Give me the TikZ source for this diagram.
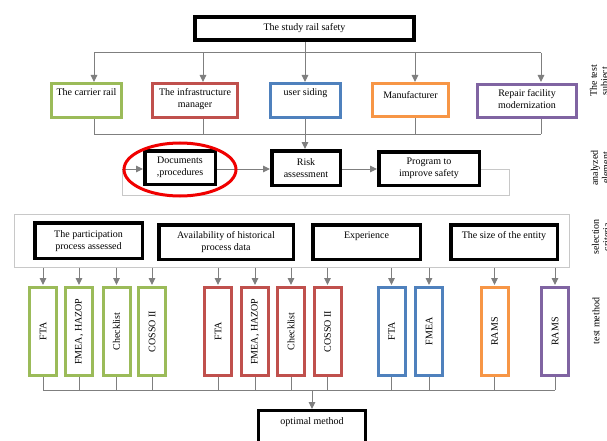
\documentclass[tikz,border=0pt]{standalone}
\usepackage{fontspec}
\setmainfont{Liberation Serif}
\usetikzlibrary{arrows.meta,shapes.geometric}
\definecolor{cgreen}{HTML}{9BBB59}
\definecolor{cred}{HTML}{C0504D}
\definecolor{cblue}{HTML}{4F81BD}
\definecolor{corange}{HTML}{F79646}
\definecolor{cpurple}{HTML}{8064A2}
\definecolor{conncol}{HTML}{7F7F7F}
\definecolor{lightcol}{HTML}{C8C8C8}
\definecolor{ringred}{HTML}{F00000}
\begin{document}
\begin{tikzpicture}[x=1pt,y=-1pt,
  font=\fontsize{10}{12}\selectfont,
  conn/.style={draw=conncol,line width=1pt},
  arr/.style={conn,-{Triangle[length=7pt,width=6.5pt]}},
  cbox/.style={draw=#1,line width=3pt,fill=white,rectangle,inner sep=0pt},
  bbox/.style={draw=black,line width=3.5pt,fill=white,rectangle,inner sep=0pt,align=center},
  mbox/.style={cbox=#1,minimum width=27pt,minimum height=88pt},
  toplbl/.style={anchor=north,align=center,inner sep=0pt},
  side/.style={rotate=90,align=center,inner sep=0pt,font=\fontsize{10}{11}\selectfont}
]
\useasboundingbox (0,0) rectangle (607,441);
\clip (0,0) rectangle (607,441);
\fill[white] (0,0) rectangle (607,441);

% top box
\node[bbox,line width=4pt,minimum width=219pt,minimum height=23pt] (T) at (304.5,28.5) {The study rail safety};

% row 2 boxes
\node[cbox=cgreen,minimum width=70pt,minimum height=34pt,
  label={[toplbl,yshift=-6pt]north:{The carrier rail}}] (A) at (86.5,100.5) {};
\node[cbox=cred,minimum width=85pt,minimum height=34pt,
  label={[toplbl,yshift=-6.5pt]north:{The infrastructure\\manager}}] (B) at (195,100.5) {};
\node[cbox=cblue,minimum width=70pt,minimum height=34pt,
  label={[toplbl,yshift=-6.5pt]north:{user siding}}] (C) at (305.5,100.5) {};
\node[cbox=corange,minimum width=76pt,minimum height=33pt,
  label={[toplbl,yshift=-9pt]north:{Manufacturer}}] (D) at (410.5,100) {};
\node[cbox=cpurple,minimum width=99pt,minimum height=33pt,
  label={[toplbl,yshift=-6pt]north:{Repair facility\\modernization}}] (E) at (527,101) {};

% arrow positions row 2
\coordinate (ia) at (94,82);
\coordinate (ib) at (203,82);
\coordinate (ic) at (305,82);
\coordinate (id) at (415,82);
\coordinate (ie) at (541,82);
\coordinate (tbus) at (94,53);
\coordinate (bbus) at (94,134);

\draw[conn] (T.south -| ic) -- (ic |- tbus);
\draw[conn] (ia |- tbus) -- (ie |- tbus);
\foreach \c in {ia,ib,ic,id,ie} \draw[arr] (\c |- tbus) -- (\c);

% bottom bus row 2
\draw[conn] (ia |- bbus) -- (ie |- bbus);
\draw[conn] (ia |- A.south) -- (ia |- bbus);
\draw[conn] (ib |- B.south) -- (ib |- bbus);
\draw[conn] (id |- D.south) -- (id |- bbus);
\draw[conn] (ie |- E.south) -- (ie |- bbus);

% row 3
\node[bbox,minimum width=70.5pt,minimum height=33.5pt] (Doc) at (180,167.5) {Documents\\,procedures};
\node[bbox,minimum width=68.5pt,minimum height=34.5pt] (R) at (306,168) {Risk\\assessment};
\node[bbox,minimum width=100.5pt,minimum height=33.5pt] (P) at (429,168.5) {Program to\\improve safety};
\draw[arr] (ic |- C.south) -- (ic |- R.north);

\coordinate (lp1) at (509,169);
\coordinate (lp2) at (509,195);
\coordinate (lp3) at (122,195);
\coordinate (lp4) at (122,169);
\draw[arr] (Doc.east |- lp1) -- (R.west |- lp1);
\draw[arr] (R.east |- lp1) -- (P.west |- lp1);
\draw[draw=lightcol,line width=1pt] (P.east |- lp1) -- (lp1) -- (lp2) -- (lp3) -- (lp4);
\draw[arr] (lp4) -- (Doc.west |- lp4);

\node[ellipse,draw=ringred,line width=3pt,minimum width=112pt,minimum height=53pt] (ring) at (180,169.5) {};

% selection criteria
\node[draw=lightcol,line width=1pt,rectangle,minimum width=555pt,minimum height=53pt,inner sep=0pt] (S) at (291.5,240.5) {};
\node[bbox,minimum width=107.5pt,minimum height=35.5pt,
  label={[toplbl,yshift=-9.5pt]north:{The participation\\process assessed}}] (C1) at (88.5,240.5) {};
\node[bbox,minimum width=134.5pt,minimum height=34.5pt,
  label={[toplbl,yshift=-8.5pt]north:{Availability of historical\\process data}}] (C2) at (226,242) {};
\node[bbox,minimum width=107.5pt,minimum height=34.5pt,
  label={[toplbl,yshift=-8.5pt]north:{Experience}}] (C3) at (366.5,242) {};
\node[bbox,minimum width=106.5pt,minimum height=34.5pt,
  label={[toplbl,yshift=-8.5pt]north:{The size of the entity}}] (C4) at (504,242) {};

% test methods
\node[mbox=cgreen] (m1) at (43,331.5) {\rotatebox{90}{FTA}};
\node[mbox=cgreen] (m2) at (79,331.5) {\rotatebox{90}{FMEA, HAZOP}};
\node[mbox=cgreen] (m3) at (116.5,331.5) {\rotatebox{90}{Checklist}};
\node[mbox=cgreen] (m4) at (152,331.5) {\rotatebox{90}{COSSO II}};
\node[mbox=cred] (m5) at (218,331.5) {\rotatebox{90}{FTA}};
\node[mbox=cred] (m6) at (255,331.5) {\rotatebox{90}{FMEA, HAZOP}};
\node[mbox=cred] (m7) at (291,331.5) {\rotatebox{90}{Checklist}};
\node[mbox=cred] (m8) at (327.5,331.5) {\rotatebox{90}{COSSO II}};
\node[mbox=cblue] (m9) at (391.5,331.5) {\rotatebox{90}{FTA}};
\node[mbox=cblue] (m10) at (429,331.5) {\rotatebox{90}{FMEA}};
\node[mbox=corange] (m11) at (494.5,331.5) {\rotatebox{90}{RAMS}};
\node[mbox=cpurple] (m12) at (555,331.5) {\rotatebox{90}{RAMS}};

\foreach \m in {m1,m2,m3,m4,m5,m6,m7,m8,m9,m10,m11,m12}{
  \draw[arr,shorten >=1pt] (S.south -| \m.north) -- (\m.north);
}

\coordinate (mbus) at (43,390);
\draw[conn] (m1.south |- mbus) -- (m12.south |- mbus);
\foreach \m in {m1,m2,m3,m4,m5,m6,m7,m8,m9,m10,m11,m12}{
  \draw[conn] (\m.south) -- (\m.south |- mbus);
}

% optimal method
\node[bbox,line width=3pt,minimum width=107pt,minimum height=50pt,
  label={[toplbl,yshift=-8pt]north:{optimal method}}] (O) at (312,435.5) {};
\draw[arr] (O.north |- mbus) -- (O.north);

% side labels
\node[side] (l1) at (600,81) {The test\\subject};
\node[side] (l2) at (600,168) {analyzed\\element};
\node[side] (l3) at (601,237) {selection\\criteria};
\node[side] (l4) at (596,321) {test method};
\end{tikzpicture}
\end{document}
